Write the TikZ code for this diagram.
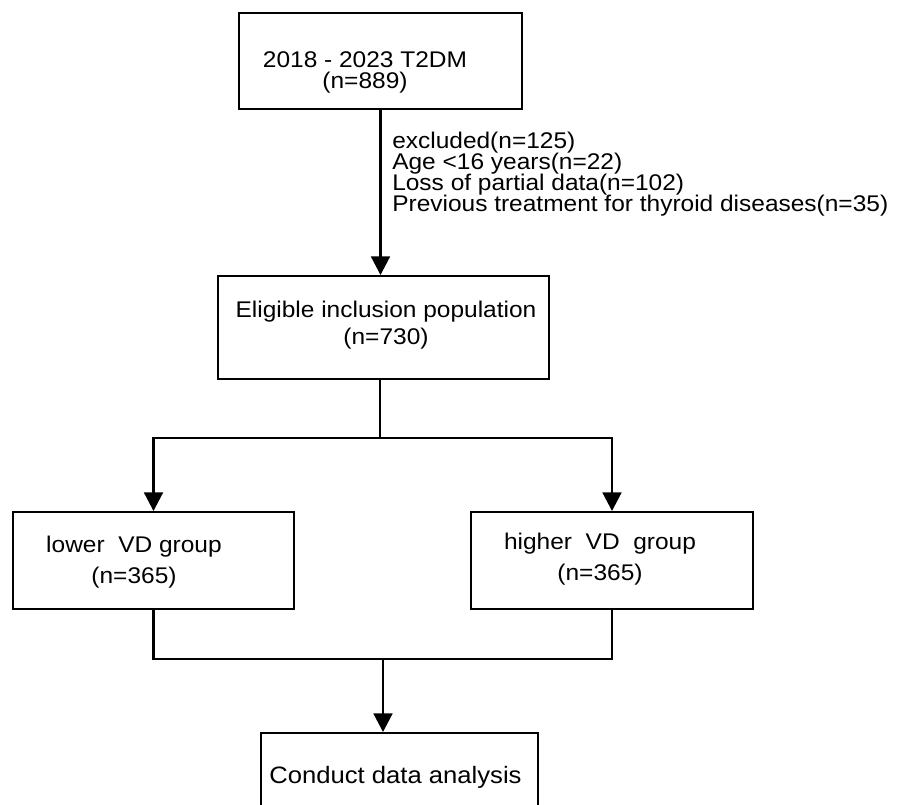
\documentclass[tikz,border=0pt]{standalone}
\usepackage{fontspec}
\setmainfont[FakeStretch=1.08]{Liberation Sans}
\usetikzlibrary{arrows.meta}
\newcommand\tightlines{\lineskiplimit -10pt\relax}

\begin{document}
\begin{tikzpicture}[x=0.75pt,y=-0.75pt,
  box/.style={draw, line width=1.4pt, rectangle, inner sep=0pt},
  txt/.style={align=center, inner sep=0pt, font=\fontsize{17}{15.75}\selectfont\tightlines},
  line/.style={line width=2.2pt},
  arr/.style={line width=2.2pt, -{Triangle[width=14pt,length=14pt]}}]
\useasboundingbox (0,0) rectangle (911,805);
\clip (0,0) rectangle (911,805);
\node[box, minimum width=212.25pt, minimum height=72pt] (b1) at (380.5,61){};
\node[txt] (t1) at (365,72.5){2018 - 2023 T2DM\\(n=889)};
\node[box, minimum width=248.25pt, minimum height=77.25pt] (b2) at (383.5,327.5){};
\node[txt] (t2) at (386,325){Eligible inclusion population\\[5pt](n=730)};
\node[box, minimum width=210.75pt, minimum height=72.75pt] (b3) at (153.5,560.5){};
\node[txt] (t3) at (134,562){lower~~VD group\\[7pt](n=365)};
\node[box, minimum width=211.5pt, minimum height=72.75pt] (b4) at (612,560.5){};
\node[txt] (t4) at (600,559){higher~~VD~~group\\[8pt](n=365)};
\node[box, minimum width=207.75pt, minimum height=75pt] (b5) at (399.5,783){};
\node[txt, font=\fontsize{17.8}{17}\selectfont] (t5) at (395.5,777){Conduct data analysis};
\node[txt, align=left, anchor=west, font=\fontsize{17}{15.75}\selectfont\tightlines] (excl) at (392,174){excluded(n=125)\\Age <16 years(n=22)\\Loss of partial data(n=102)\\Previous treatment for thyroid diseases(n=35)};

\coordinate (split) at (380,438);
\coordinate (join) at (383,659);
\draw[arr] (b1.south) -- (b1.south |- b2.north);
\draw[line] (b2.south -| split) -- (split);
\draw[arr] (split) -| (b3.north);
\draw[arr] (split) -| (b4.north);
\draw[line] (b3.south) |- (join);
\draw[line] (b4.south) |- (join);
\draw[arr] (join) -- (join |- b5.north);

\end{tikzpicture}
\end{document}
